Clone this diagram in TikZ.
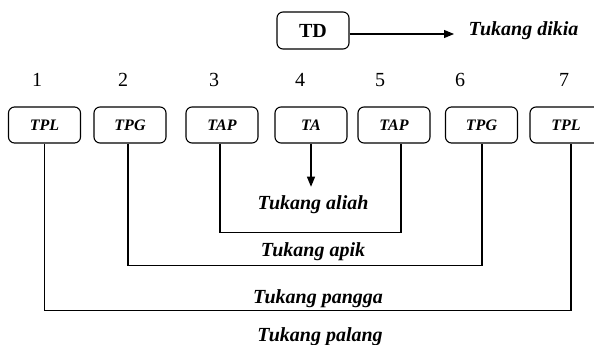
\documentclass[tikz,border=0pt]{standalone}
\usepackage{fontspec}
\setmainfont{Liberation Serif}
\usetikzlibrary{arrows.meta}
\tikzset{
 kotak/.style={draw, line width=1.1pt, rounded corners=6pt, minimum width=72pt, minimum height=36pt,
   font=\fontsize{16}{19}\selectfont\bfseries\itshape},
 ket/.style={font=\fontsize{20}{23}\selectfont\bfseries\itshape, anchor=base},
}
\begin{document}
\begin{tikzpicture}[x=1pt, y=-1pt, line width=1.1pt, >={Triangle[length=10pt,width=8pt]}]
 \useasboundingbox (0,0) rectangle (594,345);
 \node[kotak, minimum height=37pt, font=\fontsize{20}{23}\selectfont\bfseries](td) at (313,30.5){TD};
 \node[ket, anchor=base west, inner sep=0pt](dikia) at (468,36){Tukang dikia};
 \draw[->, shorten >=14pt]([yshift=-3.5pt]td.east)--([yshift=-3.5pt]td.east -| dikia.west);
 \foreach \x [count=\i] in {37,123,214,300,380,460,564}
 {
     \node[anchor=base, font=\fontsize{20}{23}\selectfont](n\i) at (\x,86){\i};
 }
 \foreach \x/\t [count=\i] in {44.5/TPL,130/TPG,222/TAP,311/TA,394/TAP,481.5/TPG,566/TPL}
 {
     \node[kotak](b\i) at (\x,125){\t};
 }
 \node[ket](aliah) at (313,209){Tukang aliah};
 \node[ket](apik) at (313,256){Tukang apik};
 \node[ket](pangga) at (318,303){Tukang pangga};
 \node[ket](palang) at (320,341){Tukang palang};
 \draw[->, shorten >=4.5pt](b4.south)--(b4.south |- aliah.north);
 \draw([xshift=-2pt]b3.south)--++(0,89)-|([xshift=7pt]b5.south);
 \draw([xshift=-2pt]b2.south)--++(0,122)-|([xshift=.5pt]b6.south);
 \draw(b1.south)--++(0,167)-|([xshift=5pt]b7.south);
\end{tikzpicture}
\end{document}
